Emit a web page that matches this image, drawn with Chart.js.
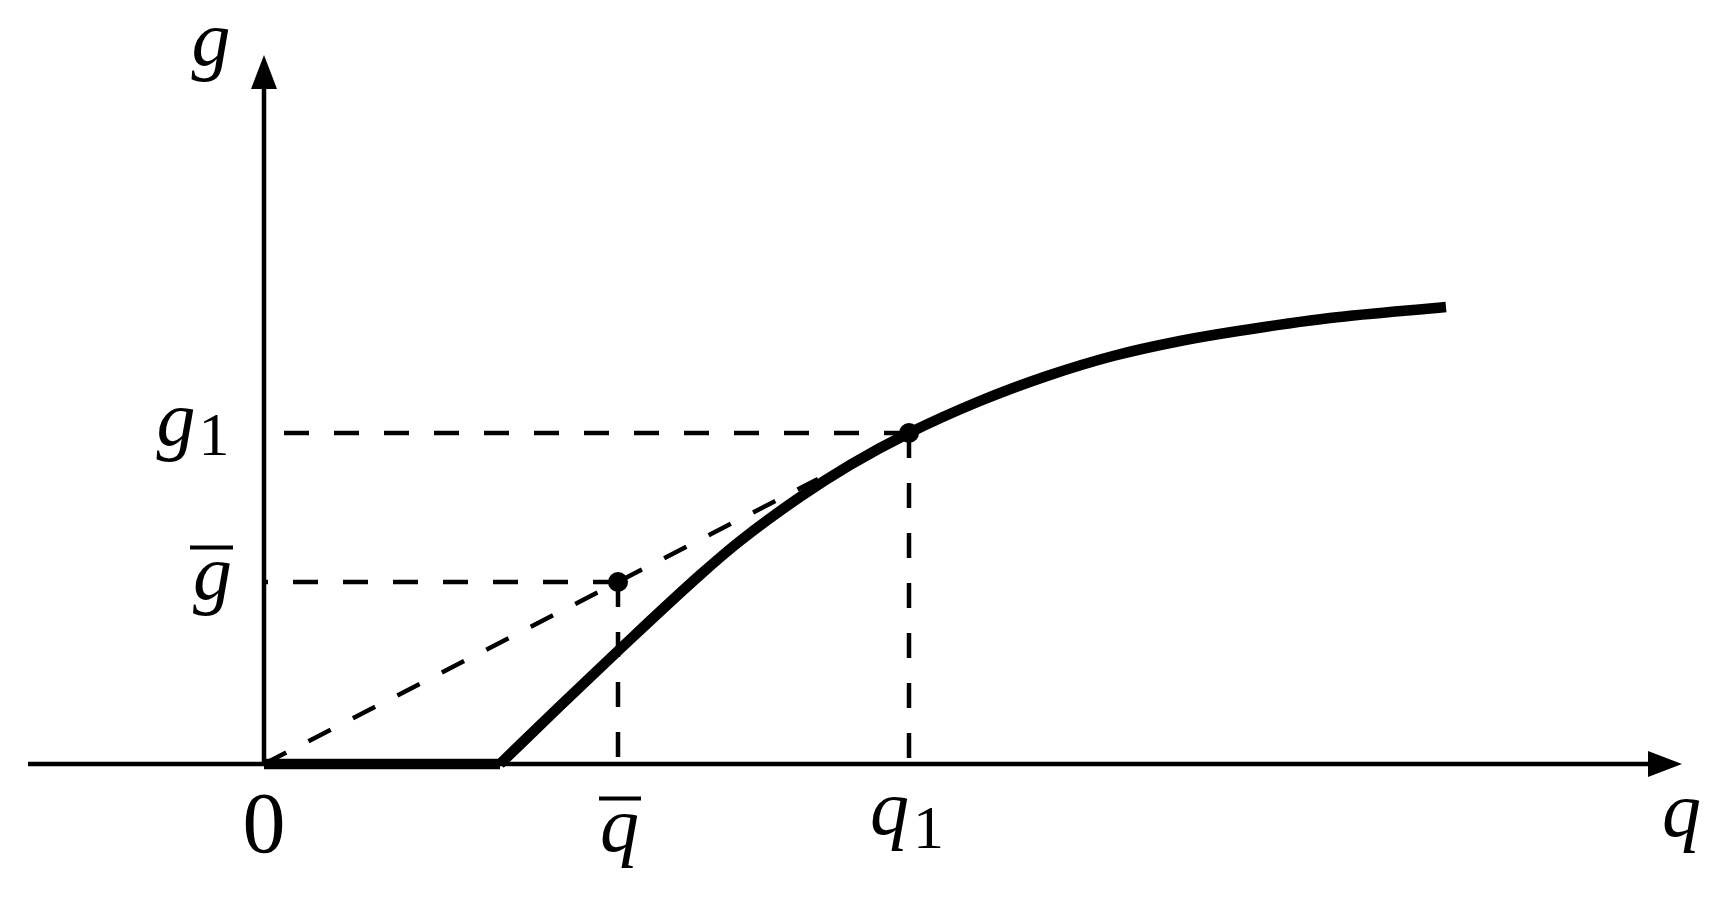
<!DOCTYPE html>
<html>
<head>
<meta charset="utf-8">
<title>g(q)</title>
<script src="https://cdn.jsdelivr.net/npm/chart.js@4"></script>
<style>
  html, body { margin: 0; padding: 0; background: #fff; }
  #wrap { position: relative; width: 1728px; height: 903px; }
</style>
</head>
<body>
<div id="wrap"><canvas id="chart"></canvas></div>
<script>
// ===== data (q along the horizontal axis, g up the vertical one) =====
const qFlat = [0, 2.36];
const gFlat = [0, 0];

const qCurve = [2.36, 2.96, 3.56, 4.36, 4.76, 5.36, 5.86, 6.45, 7.16, 7.83, 8.49, 9.16, 9.74, 10.66, 11.82];
const gCurve = [0, 0.58, 1.15, 1.89, 2.23, 2.67, 2.99, 3.31, 3.63, 3.88, 4.08, 4.23, 4.33, 4.46, 4.57];

// ray from the origin through (q̄, ḡ)
const qRay = [0, 5.54];
const gRay = [0, 2.85];

// marked points: (q̄, ḡ) and (q1, g1)
const qMarks = [3.54, 6.45];
const gMarks = [1.82, 3.31];

// tick labels
const xTicks = [0, 3.54, 6.45];
const xTickLabels = ['0', 'q\u0304', 'q\u2081'];
const yTicks = [3.31, 1.82];
const yTickLabels = ['g\u2081', 'g\u0304'];
const xAxisLabel = 'q';
const yAxisLabel = 'g';

// axis extent
const qAxisFrom = -2.36, qAxisTo = 14.18;
const gAxisTo = 7.09;

const SERIF = '"Liberation Serif", Tinos, "Times New Roman", serif';
const BLACK = '#000';

const pts = (xs, ys) => xs.map((v, i) => ({ x: v, y: ys[i] }));

// dashed guide lines from each marked point to both axes
const guides = [];
qMarks.forEach((q, i) => {
  guides.push(pts([q, 0], [gMarks[i], gMarks[i]]));
  guides.push(pts([q, q], [gMarks[i], 0]));
});

const dashed = data => ({
  data, showLine: true, borderColor: BLACK, borderWidth: 4.5, borderDash: [25, 25],
  pointRadius: 0, borderCapStyle: 'butt', order: 3
});

const datasets = [
  { data: pts(qMarks, gMarks), showLine: false, pointRadius: 10, pointBackgroundColor: BLACK,
    pointBorderWidth: 0, order: 0 },
  { data: pts(qCurve, gCurve), showLine: true, borderColor: BLACK, borderWidth: 10.5,
    cubicInterpolationMode: 'monotone', pointRadius: 0, borderCapStyle: 'butt', order: 1 },
  { data: pts(qFlat, gFlat), showLine: true, borderColor: BLACK, borderWidth: 10.5,
    pointRadius: 0, borderCapStyle: 'butt', order: 1 },
  dashed(pts(qRay, gRay)),
  ...guides.map(dashed)
];

// draw "q̄", "q₁", "0" ... centred on the ink of the base glyph
function mathLabel(ctx, label, cx, cy, barY, subDy) {
  const bar = label.includes('\u0304');
  const sub = label.includes('\u2081') ? '1' : '';
  const base = label.replace('\u0304', '').replace('\u2081', '');
  const isDigit = /[0-9]/.test(base);
  const mainFont = isDigit ? '86px ' + SERIF : 'italic 78px ' + SERIF;
  const subFont = '62px ' + SERIF;

  ctx.font = mainFont;
  const m = ctx.measureText(base);
  const w = m.actualBoundingBoxLeft + m.actualBoundingBoxRight;
  const h = m.actualBoundingBoxAscent + m.actualBoundingBoxDescent;
  const left = cx - w / 2;
  ctx.fillText(base, left + m.actualBoundingBoxLeft, cy + m.actualBoundingBoxAscent - h / 2);
  if (bar) ctx.fillRect(left - 3, barY - 2, w + 6, 4);
  if (sub) {
    ctx.font = subFont;
    const s = ctx.measureText(sub);
    const sh = s.actualBoundingBoxAscent + s.actualBoundingBoxDescent;
    ctx.fillText(sub, left + w + 10 + s.actualBoundingBoxLeft,
      cy + (subDy || 0) + s.actualBoundingBoxAscent - sh / 2);
  }
}

const axesPlugin = {
  id: 'axes',
  beforeDatasetsDraw(chart) {
    const { ctx, scales: { x, y } } = chart;
    const x0 = x.getPixelForValue(0), y0 = y.getPixelForValue(0);
    const xr = x.getPixelForValue(qAxisTo), yt = y.getPixelForValue(gAxisTo);
    ctx.save();
    ctx.strokeStyle = BLACK; ctx.fillStyle = BLACK; ctx.lineWidth = 4.5;
    ctx.beginPath();
    ctx.moveTo(x.getPixelForValue(qAxisFrom), y0); ctx.lineTo(xr - 30, y0);
    ctx.moveTo(x0, y0); ctx.lineTo(x0, yt + 30);
    ctx.stroke();
    ctx.beginPath();
    ctx.moveTo(xr, y0); ctx.lineTo(xr - 34, y0 - 13); ctx.lineTo(xr - 34, y0 + 13); ctx.closePath();
    ctx.moveTo(x0, yt); ctx.lineTo(x0 - 13, yt + 34); ctx.lineTo(x0 + 13, yt + 34); ctx.closePath();
    ctx.fill();
    ctx.restore();
  },
  afterDatasetsDraw(chart) {
    const { ctx, scales: { x, y } } = chart;
    const x0 = x.getPixelForValue(0), y0 = y.getPixelForValue(0);
    ctx.save();
    ctx.fillStyle = BLACK;
    ctx.textAlign = 'left';
    ctx.textBaseline = 'alphabetic';
    xTicks.forEach((v, i) => {
      const lab = xTickLabels[i];
      const px = x.getPixelForValue(v);
      if (lab.includes('\u2081')) mathLabel(ctx, lab, px - 19, y0 + 60, 0, 4);
      else if (lab.includes('\u0304')) mathLabel(ctx, lab, px + 2, y0 + 77, y0 + 34.5);
      else mathLabel(ctx, lab, px, y0 + 59.5);
    });
    yTicks.forEach((v, i) => {
      const lab = yTickLabels[i];
      const py = y.getPixelForValue(v);
      if (lab.includes('\u2081')) mathLabel(ctx, lab, x0 - 89, py + 2, 0, 0);
      else mathLabel(ctx, lab, x0 - 52.5, py + 6.5, py - 34.5);
    });
    mathLabel(ctx, xAxisLabel, x.getPixelForValue(qAxisTo), y0 + 61.5);
    mathLabel(ctx, yAxisLabel, x0 - 54, y.getPixelForValue(gAxisTo));
    ctx.restore();
  }
};

function build() {
  new Chart(document.getElementById('chart'), {
    type: 'line',
    data: { datasets },
    options: {
      responsive: true,
      maintainAspectRatio: false,
      animation: false,
      layout: { padding: 0, autoPadding: false },
      plugins: { legend: { display: false }, tooltip: { enabled: false } },
      scales: {
        x: { type: 'linear', min: -2.64, max: 14.64, display: false },
        y: { type: 'linear', min: -1.39, max: 7.64, display: false }
      }
    },
    plugins: [axesPlugin]
  });
}

Promise.all([
  document.fonts.load('italic 78px "Liberation Serif"'),
  document.fonts.load('86px "Liberation Serif"')
]).catch(() => {}).then(build);
</script>
</body>
</html>
